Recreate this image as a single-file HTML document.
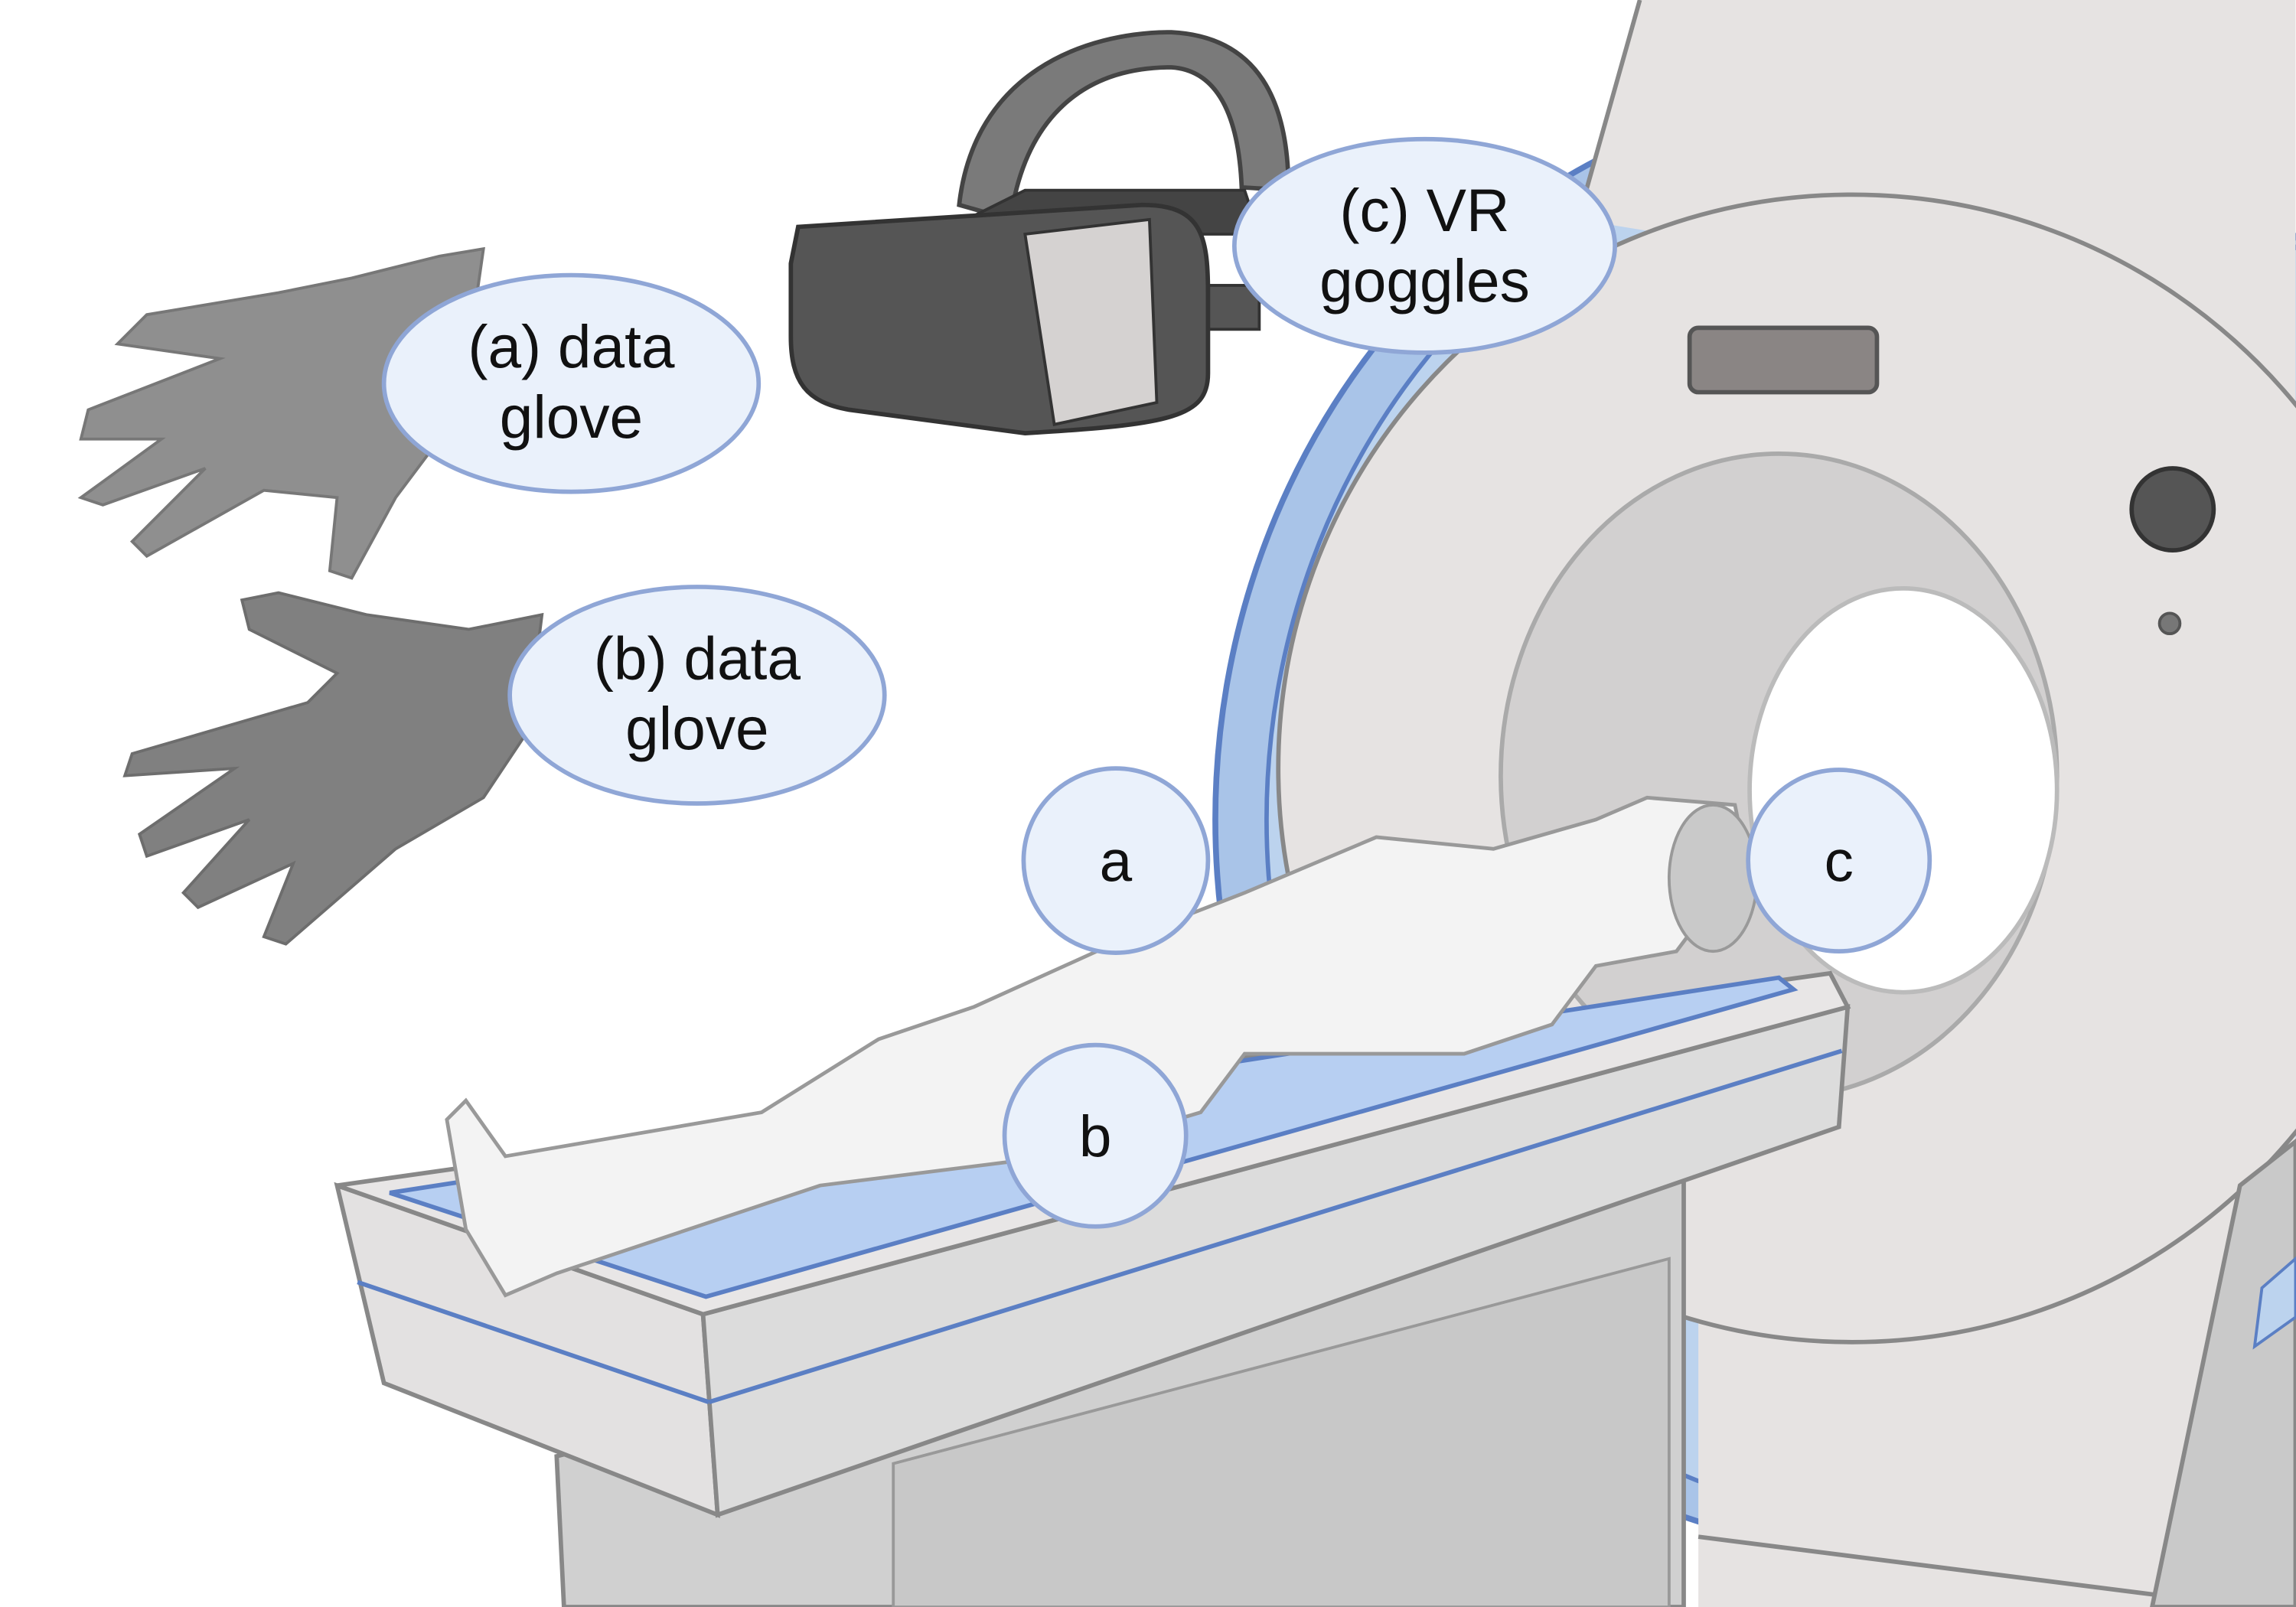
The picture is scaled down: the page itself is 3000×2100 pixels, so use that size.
<!DOCTYPE html>
<html><head><meta charset="utf-8"><style>
html,body{margin:0;padding:0;background:#fff}
svg{display:block}
text{font-family:"Liberation Sans",sans-serif;fill:#111}
</style></head><body>
<svg width="3000" height="2100" viewBox="0 0 1568 1098" xmlns="http://www.w3.org/2000/svg">
<g>
  <ellipse cx="1290" cy="560" rx="460" ry="500" fill="#a9c4e8" stroke="#5b7fc4" stroke-width="4"/>
  <ellipse cx="1310" cy="560" rx="445" ry="480" fill="#bcd3ee" stroke="#5b7fc4" stroke-width="3"/>
  <polygon points="1120,0 1568,0 1568,1098 1160,1098 1160,880 1300,880 1200,170 1078,150 1085,120" fill="#e6e3e2" stroke="none"/>
  <polyline points="1120,0 1082,135" fill="none" stroke="#888" stroke-width="3"/>
  <circle cx="1265" cy="525" r="392" fill="#e6e3e2" stroke="#888" stroke-width="3"/>
  <line x1="1160" y1="1050" x2="1475" y2="1090" stroke="#888" stroke-width="3"/>
  <rect x="1154" y="224" width="128" height="44" rx="6" fill="#8a8584" stroke="#555" stroke-width="3"/>
  <circle cx="1484" cy="348" r="28" fill="#555" stroke="#333" stroke-width="3"/>
  <circle cx="1482" cy="426" r="7" fill="#777" stroke="#555" stroke-width="2"/>
  <ellipse cx="1215" cy="530" rx="190" ry="220" fill="#d2d0d0" stroke="#aaa" stroke-width="3"/>
  <ellipse cx="1300" cy="540" rx="105" ry="138" fill="#fff" stroke="#bbb" stroke-width="3"/>
  <polygon points="1530,810 1568,780 1568,1098 1470,1098" fill="#c9c9c9" stroke="#888" stroke-width="3"/>
  <polygon points="1545,880 1568,860 1568,900 1540,920" fill="#bcd3ee" stroke="#5b7fc4" stroke-width="2"/>
</g>
<g>
  <polygon points="380,995 1150,800 1150,1098 385,1098" fill="#d0d0d0" stroke="#888" stroke-width="3"/>
  <polygon points="610,1000 1140,860 1140,1098 610,1098" fill="#c8c8c8" stroke="#999" stroke-width="2"/>
  <polygon points="230,810 480,898 490,1035 262,945" fill="#e3e1e1" stroke="#888" stroke-width="3"/>
  <polygon points="480,898 1262,688 1256,770 490,1035" fill="#dcdcdc" stroke="#888" stroke-width="3"/>
  <polygon points="230,810 1250,665 1262,688 480,898" fill="#e8e6e6" stroke="#888" stroke-width="3"/>
  <line x1="484" y1="958" x2="1258" y2="718" stroke="#5b7fc4" stroke-width="3"/>
  <line x1="244" y1="876" x2="484" y2="958" stroke="#5b7fc4" stroke-width="3"/>
  <polygon points="266,815 1215,668 1225,676 482,886" fill="#b7cff2" stroke="#5b7fc4" stroke-width="3"/>
</g>
<g>
  <path d="M305,765 L318,752 L345,790 L520,760 L600,710 L665,688 L760,645 L850,610 L940,572 L1020,580 L1090,560 L1125,545 L1185,550 L1195,600 L1160,630 L1145,650 L1090,660 L1060,700 L1000,720 L850,720 L820,760 L720,790 L560,810 L380,870 L345,885 L318,840 Z" fill="#f3f3f3" stroke="#999" stroke-width="2.5"/>
  <ellipse cx="1170" cy="600" rx="30" ry="50" fill="#c9c9c9" stroke="#999" stroke-width="2"/>
</g>
<g>
  <path d="M655,140 C665,50 740,22 800,22 C860,25 880,70 880,130 L848,128 C846,80 832,48 800,46 C740,46 700,80 690,150 Z" fill="#7a7a7a" stroke="#444" stroke-width="3"/>
  <polygon points="660,150 700,130 850,130 860,160 700,160" fill="#444" stroke="#333" stroke-width="2"/>
  <rect x="800" y="195" width="60" height="30" fill="#555" stroke="#333" stroke-width="2"/>
  <path d="M545,155 L780,140 C820,140 825,160 825,200 L825,255 C825,285 800,290 700,296 L580,280 C550,275 540,260 540,230 L540,180 Z" fill="#555" stroke="#333" stroke-width="3"/>
  <path d="M700,160 L785,150 L790,275 L720,290 Z" fill="#d5d2d1" stroke="#333" stroke-width="2"/>
</g>
<g>
  <path d="M330,170 L300,175 L240,190 L190,200 L100,215 L80,235 L150,245 L60,280 L55,300 L110,300 L55,340 L70,345 L140,320 L90,370 L100,380 L180,335 L230,340 L225,390 L240,395 L270,340 L300,300 L320,240 Z" fill="#8f8f8f" stroke="#777" stroke-width="2"/>
  <path d="M370,420 L320,430 L250,420 L190,405 L165,410 L170,430 L230,460 L210,480 L90,515 L85,530 L160,525 L95,570 L100,585 L170,560 L125,610 L135,620 L200,590 L180,640 L195,645 L270,580 L330,545 L360,500 Z" fill="#808080" stroke="#6d6d6d" stroke-width="2"/>
</g>
<g>
  <g>
    <ellipse cx="390" cy="262" rx="128" ry="74" fill="#eaf1fb" stroke="#8fa6d6" stroke-width="3"/>
    <text x="390" y="251" font-size="41" text-anchor="middle">(a) data</text>
    <text x="390" y="299" font-size="41" text-anchor="middle">glove</text>
  </g>
  <g>
    <ellipse cx="476" cy="475" rx="128" ry="74" fill="#eaf1fb" stroke="#8fa6d6" stroke-width="3"/>
    <text x="476" y="464" font-size="41" text-anchor="middle">(b) data</text>
    <text x="476" y="512" font-size="41" text-anchor="middle">glove</text>
  </g>
  <g>
    <ellipse cx="973" cy="168" rx="130" ry="73" fill="#eaf1fb" stroke="#8fa6d6" stroke-width="3"/>
    <text x="973" y="158" font-size="41" text-anchor="middle">(c) VR</text>
    <text x="973" y="206" font-size="41" text-anchor="middle">goggles</text>
  </g>
  <g>
    <circle cx="762" cy="588" r="63" fill="#eaf1fb" stroke="#8fa6d6" stroke-width="3"/>
    <text x="762" y="602" font-size="40" text-anchor="middle">a</text>
  </g>
  <g>
    <circle cx="748" cy="776" r="62" fill="#eaf1fb" stroke="#8fa6d6" stroke-width="3"/>
    <text x="748" y="790" font-size="40" text-anchor="middle">b</text>
  </g>
  <g>
    <circle cx="1256" cy="588" r="62" fill="#eaf1fb" stroke="#8fa6d6" stroke-width="3"/>
    <text x="1256" y="602" font-size="40" text-anchor="middle">c</text>
  </g>
</g>
</svg>
</body></html>
